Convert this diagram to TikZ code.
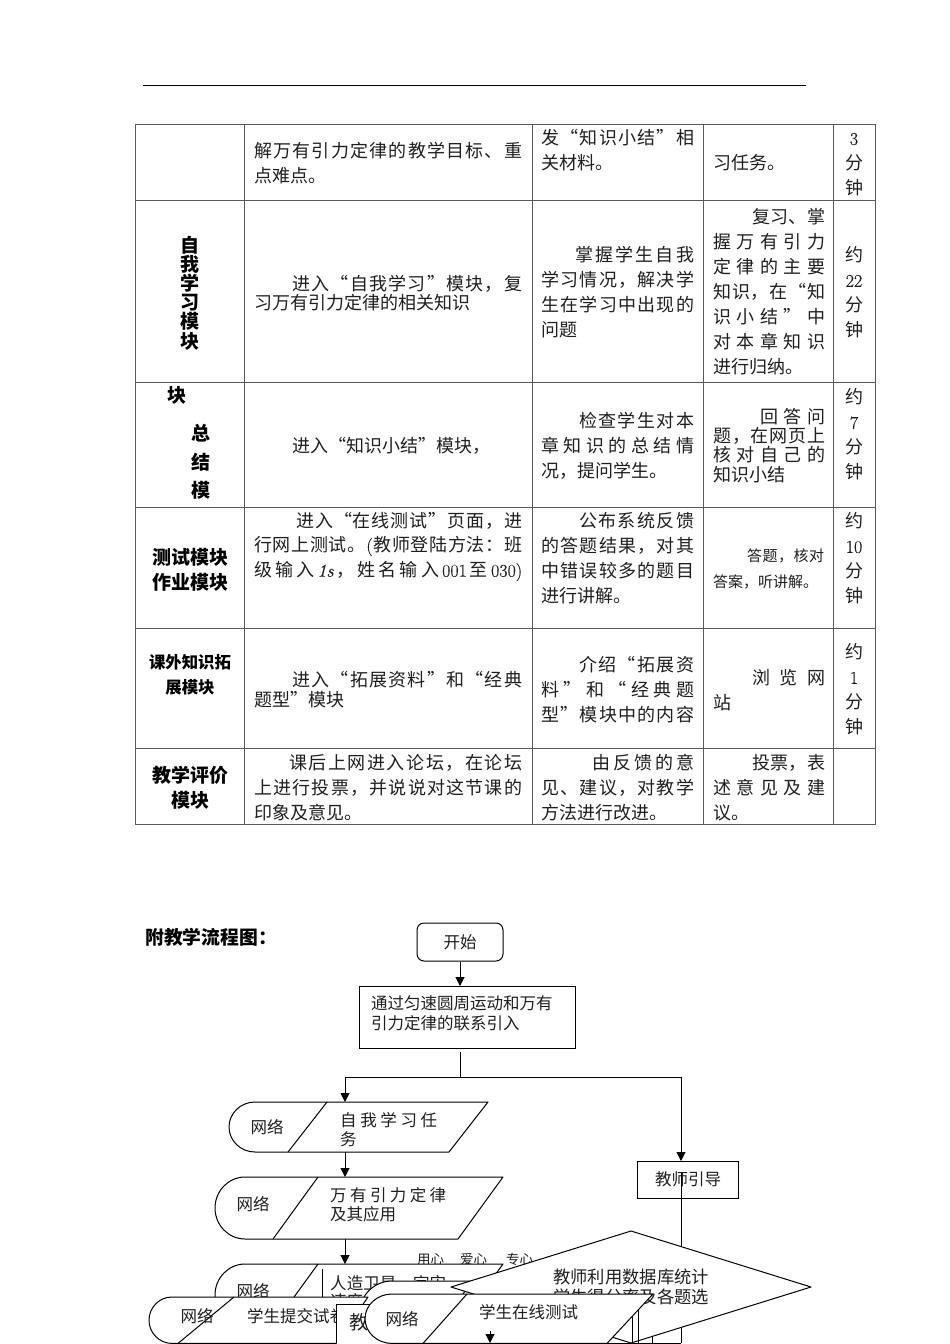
\documentclass[tikz,border=0pt]{standalone}
\usepackage{fontspec}
\usetikzlibrary{arrows.meta}
\newfontfamily\cjk{Noto Sans CJK SC}
\newfontfamily\dgf{Latin Modern Roman}[FakeBold=0.35]
\definecolor{inkc}{gray}{0.12}
\definecolor{gridc}{gray}{0.35}
\def\jA#1#2\jE{#1\ifx\relax#2\relax\else\hfill\jA#2\jE\fi}
\newcounter{tn}
\newcommand\strutc{\rule[-.12em]{0pt}{1em}}
% natural line
\newcommand\tl[4][]{\stepcounter{tn}\node[tx,#1] (t\thetn) at (#2,#3) {\strutc #4};}
% justified line: x, y, width, chars
\newcommand\jl[5][]{\stepcounter{tn}\node[tx,#1] (t\thetn) at (#2,#3) {\strutc\hbox to #4pt{\jA#5\jE}};}
% centred line
\newcommand\cl[4][]{\stepcounter{tn}\node[tx,anchor=center,#1] (t\thetn) at (#2,#3) {\strutc #4};}
\newcommand\nd[1]{{\dgf #1}}
\newcommand\ii{{\dgf\itshape 1s}}
\newcommand\lpr{{\dgf (}}
\newcommand\dga{{\dgf 001}}
\newcommand\dgb{{\dgf 030)}}
\tikzset{
 tx/.style={inner sep=0pt,anchor=west,yshift=-1pt,font=\cjk\fontsize{18}{18}\selectfont,text=inkc},
 bd/.style={font=\cjk\bfseries\fontsize{19}{19}\selectfont,text=black},
 fl/.style={font=\cjk\fontsize{16.5}{16.5}\selectfont,text=inkc},
 grid/.style={draw=gridc,line width=1pt},
 flow/.style={draw=black,line width=1pt},
 arr/.style={flow,-{Triangle[length=9pt,width=9pt]}},
 shp/.style={draw=black,fill=white,line width=1pt,line join=round},
}
% rounded parallelogram: left, top, bottom, arcstart, slanttop, slantbot, topright, botright
\newcommand\netshape[8]{%
 \def\nshp{(#4,#2) -- (#7,#2) -- (#8,#3) -- (#4,#3) .. controls (#1+.45*#4-.45*#1,#3) and (#1,#3*.775+#2*.225) .. (#1,#3*.5+#2*.5) .. controls (#1,#2*.775+#3*.225) and (#1+.45*#4-.45*#1,#2) .. cycle}%
 \fill[white] \nshp;
 \draw[flow,line join=round] \nshp;
 \draw[flow] (#5,#2) -- (#6,#3);}
\begin{document}
\begin{tikzpicture}[x=1pt,y=-1pt]
\useasboundingbox (0,0) rectangle (950,1344);
\fill[white] (0,0) rectangle (950,1344);
\draw[black,line width=1pt] (143,85.5) -- (806,85.5);
% table
\foreach \yy in {124.5,200,382.5,507,628.5,748.5,824} \draw[grid] (135,\yy) -- (875.5,\yy);
\foreach \xx in {135,244,532,703.5,833,875.5} \draw[grid] (\xx,124.5) -- (\xx,824);
% row 1
\jl{254}{150}{268}{解万有引力定律的教学目标、重}
\tl{254}{175}{点难点。}
\jl{541}{137}{153}{发“知识小结”相}
\tl{541}{162}{关材料。}
\tl{713}{162}{习任务。}
\cl{854}{137}{\nd{3}}\cl{854}{162}{分}\cl{854}{187}{钟}
% row 2
\cl[bd]{190}{244}{自}\cl[bd]{190}{263}{我}\cl[bd]{190}{282}{学}\cl[bd]{190}{301}{习}\cl[bd]{190}{320}{模}\cl[bd]{190}{340}{块}
\jl{292}{283}{230}{进入“自我学习”模块，复}
\tl{254}{302}{习万有引力定律的相关知识}
\jl{575}{254}{119}{掌握学生自我}
\jl{541}{279}{153}{学习情况，解决学}
\jl{541}{304}{153}{生在学习中出现的}
\tl{541}{329}{问题}
\jl{752}{216}{73}{复习、掌}
\jl{713}{241}{112}{握万有引力}
\jl{713}{266}{112}{定律的主要}
\jl{713}{291}{112}{知识，在“知}
\jl{713}{316}{112}{识小结”中}
\jl{713}{341}{112}{对本章知识}
\tl{713}{366}{进行归纳。}
\cl{854}{254}{约}\cl{854}{279}{\nd{22}}\cl{854}{304}{分}\cl{854}{329}{钟}
% row 3
\cl[bd]{177}{394}{块}\cl[bd]{201}{432}{总}\cl[bd]{201}{461}{结}\cl[bd]{201}{489}{模}
\tl{292}{445}{进入“知识小结”模块，}
\jl{579}{420}{115}{检查学生对本}
\jl{541}{445}{153}{章知识的总结情}
\tl{541}{470}{况，提问学生。}
\jl{760}{416}{65}{回答问}
\jl{713}{435}{112}{题，在网页上}
\jl{713}{454}{112}{核对自己的}
\tl{713}{474}{知识小结}
\cl{854}{396}{约}\cl{854}{421}{\nd{7}}\cl{854}{446}{分}\cl{854}{471}{钟}
% row 4
\cl[bd]{190}{556}{测试模块}\cl[bd]{190}{581}{作业模块}
\jl{296}{520}{226}{进入“在线测试”页面，进}
\jl{254}{545}{268}{行网上测试。\lpr 教师登陆方法：班}
\jl{254}{570}{268}{级输入\ii，姓名输入\dga 至\dgb}
\jl{579}{520}{115}{公布系统反馈}
\jl{541}{545}{153}{的答题结果，对其}
\jl{541}{570}{153}{中错误较多的题目}
\tl{541}{595}{进行讲解。}
\jl[font=\cjk\fontsize{15}{15}\selectfont]{747}{555}{77}{答题，核对}
\tl[font=\cjk\fontsize{15}{15}\selectfont]{713}{581}{答案，听讲解。}
\cl{854}{520}{约}\cl{854}{545}{\nd{10}}\cl{854}{570}{分}\cl{854}{595}{钟}
% row 5
\cl[bd,font=\cjk\bfseries\fontsize{16.4}{16.4}\selectfont]{190}{661}{课外知识拓}
\cl[bd,font=\cjk\bfseries\fontsize{16.4}{16.4}\selectfont]{190}{686}{展模块}
\jl{292}{679}{230}{进入“拓展资料”和“经典}
\tl{254}{699}{题型”模块}
\jl{579}{664}{115}{介绍“拓展资}
\jl{541}{689}{153}{料”和“经典题}
\jl{541}{714}{153}{型”模块中的内容}
\jl{752}{677}{73}{浏览网}
\tl{713}{702}{站}
\cl{854}{651}{约}\cl{854}{676}{\nd{1}}\cl{854}{701}{分}\cl{854}{726}{钟}
% row 6
\cl[bd]{190}{774}{教学评价}\cl[bd]{190}{799}{模块}
\jl{289}{762}{233}{课后上网进入论坛，在论坛}
\jl{254}{787}{268}{上进行投票，并说说对这节课的}
\tl{254}{812}{印象及意见。}
\jl{592}{762}{102}{由反馈的意}
\jl{541}{787}{153}{见、建议，对教学}
\tl{541}{812}{方法进行改进。}
\jl{752}{762}{73}{投票，表}
\jl{713}{787}{112}{述意见及建}
\tl{713}{812}{议。}
% flow title
\tl[bd,font=\cjk\bfseries\fontsize{18.8}{18.8}\selectfont]{145}{936}{附教学流程图：}
% start
\node[draw=black,line width=1pt,rounded corners=7pt,minimum width=86pt,minimum height=38pt,inner sep=0pt,fl] (start) at (460,942) {\raisebox{1pt}{开始}};
\node[draw=black,line width=1pt,minimum width=216pt,minimum height=62pt,inner sep=0pt] (intro) at (467,1017) {};
\tl[fl]{371}{1002}{通过匀速圆周运动和万有}
\tl[fl]{371}{1022}{引力定律的联系引入}
\draw[arr] (start.south) -- (460,986);
\coordinate (split) at (460,1077);
\coordinate (leftd) at (345,1077);
\coordinate (rightd) at (681,1077);
\draw[flow] (460,1052) -- (split);
\draw[flow] (leftd) -- (rightd);
\draw[arr] (leftd) -- (345,1102);
\draw[arr] (rightd) -- (681,1161);
% teacher
\node[draw=black,line width=1pt,minimum width=101pt,minimum height=37pt,inner sep=0pt,fl] (guide) at (688,1179.5) {\raisebox{1pt}{教师引导}};
\draw[flow] (681,1173) -- (681,1343);
% shape 1, 2
\draw[arr] (345,1152) -- (345,1177);
\draw[arr] (345,1239) -- (345,1264);
\netshape{229}{1102}{1152}{255}{327}{288}{488}{449}
\cl[fl]{267}{1126}{网络}
\jl[fl]{340}{1119}{97}{自我学习任}
\tl[fl]{340}{1138}{务}
\netshape{215}{1177}{1239}{245}{318}{273}{503}{458}
\cl[fl]{253}{1203}{网络}
\jl[fl]{330}{1194}{116}{万有引力定律}
\tl[fl]{330}{1213}{及其应用}
% labels
\tl[font=\cjk\fontsize{13.5}{13.5}\selectfont]{417}{1258}{用心}
\tl[font=\cjk\fontsize{13.5}{13.5}\selectfont]{460}{1258}{爱心}
\tl[font=\cjk\fontsize{13.5}{13.5}\selectfont]{506}{1258}{专心}
% shape 3
\netshape{215}{1264}{1326}{245}{318}{273}{503}{458}
\cl[fl]{253}{1290}{网络}
\draw[flow] (322,1269) -- (322,1300);
\jl[fl]{330}{1282}{116}{人造卫星、宇宙}
\tl[fl]{330}{1300}{速度}
% hidden shape
\netshape{360}{1281}{1343}{392}{473}{425}{600}{560}
% student submit
\netshape{149}{1297}{1343.4}{172}{234}{178}{368}{336}
\cl[fl]{197}{1315}{网络}
\tl[fl]{247}{1315}{学生提交试卷}
% teacher rect
\fill[white] (336,1304) rectangle (400,1343);
\draw[flow] (336,1343) -- (336,1304) -- (400,1304);
\tl[font=\cjk\fontsize{19}{19}\selectfont]{349}{1321}{教师}
% diamond
\draw[flow] (652,1336) -- (652,1343);
\draw[shp] (631,1231) -- (811,1287) -- (631,1343) -- (451,1287) -- cycle;
\tl[font=\cjk\fontsize{17.3}{17.3}\selectfont]{553}{1276}{教师利用数据库统计}
\tl[font=\cjk\fontsize{17.3}{17.3}\selectfont]{553}{1296}{学生得分率及各题选}
% bottom right bits
\draw[flow] (632.5,1315) -- (632.5,1343);
\draw[flow] (638,1310) -- (638,1343);
\draw[flow] (431,1343) -- (681,1343);
% student test
\netshape{365}{1294}{1343.4}{392}{467}{423}{653}{607}
\cl[fl]{402}{1318}{网络}
\tl[fl]{479}{1311}{学生在线测试}
\draw[arr] (490,1331) -- (490,1343);
\end{tikzpicture}
\end{document}
